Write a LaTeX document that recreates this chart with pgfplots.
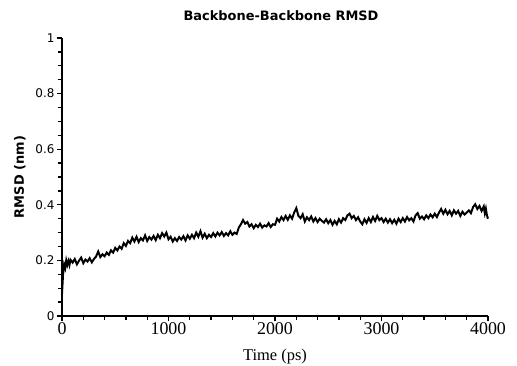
\documentclass[border=0pt]{standalone}
\usepackage{pgfplots}
\pgfplotsset{compat=1.18}
\usepackage{fontspec}
\setmainfont{DejaVu Sans}
\newfontfamily\serif{Liberation Serif}
\begin{document}
\begin{tikzpicture}
\begin{axis}[
  scale only axis,
  width=426bp, height=278bp,
  xmin=0, xmax=4000, ymin=0, ymax=1,
  axis lines=left,
  axis line style={-, line width=1.6pt},
  xtick={0,1000,2000,3000,4000},
  ytick={0,0.2,0.4,0.6,0.8,1},
  minor xtick={200,400,600,800,1200,1400,1600,1800,2200,2400,2600,2800,3200,3400,3600,3800},
  minor ytick={0.05,0.1,0.15,0.25,0.3,0.35,0.45,0.5,0.55,0.65,0.7,0.75,0.85,0.9,0.95},
  tick align=outside,
  major tick length=5bp, minor tick length=3.5bp,
  every tick/.style={black, line width=1.4pt},
  /pgf/number format/assume math mode=true,
  yticklabel style={xshift=1bp},
  xticklabel style={yshift=2bp},
  yticklabel={\fontsize{12}{14}\selectfont\pgfmathprintnumber[fixed relative, precision=1]{\tick}},
  xticklabel={\serif\fontsize{18}{20}\selectfont\pgfmathprintnumber[1000 sep={}]{\tick}},
  title={\fontsize{13}{15}\selectfont\bfseries Backbone-Backbone RMSD},
  title style={yshift=8bp, xshift=6bp},
  ylabel={\fontsize{13}{15}\selectfont\bfseries RMSD (nm)},
  ylabel style={yshift=3bp},
  xlabel={\serif\fontsize{16.5}{18}\selectfont Time (ps)},
  xlabel style={yshift=-8bp},
  clip=false,
]
\addplot[black, line width=2pt] coordinates {
(0,0.080) (10,0.150) (20,0.185) (30,0.172) (40,0.200) (50,0.184) (60,0.198) (70,0.183) (80,0.202)
(100,0.192) (120,0.205) (140,0.186) (160,0.199) (180,0.210) (200,0.190) (220,0.203) (240,0.196)
(260,0.208) (280,0.193) (300,0.205) (320,0.214) (340,0.232) (360,0.212) (380,0.222) (400,0.215)
(420,0.228) (440,0.220) (460,0.236) (480,0.228) (500,0.245) (520,0.236) (540,0.250) (560,0.242)
(580,0.262) (600,0.252) (620,0.270) (640,0.262) (660,0.282) (680,0.268) (700,0.285) (720,0.266)
(740,0.280) (760,0.272) (780,0.290) (800,0.270) (820,0.284) (840,0.275) (860,0.288) (880,0.273)
(900,0.292) (920,0.280) (940,0.298) (960,0.286) (980,0.300) (1000,0.276) (1020,0.285) (1040,0.268)
(1060,0.280) (1080,0.270) (1100,0.284) (1120,0.275) (1140,0.287) (1160,0.272) (1180,0.290)
(1200,0.278) (1220,0.292) (1240,0.280) (1260,0.300) (1280,0.285) (1300,0.305) (1320,0.282)
(1340,0.296) (1360,0.280) (1380,0.292) (1400,0.284) (1420,0.298) (1440,0.286) (1460,0.300)
(1480,0.290) (1500,0.302) (1520,0.288) (1540,0.298) (1560,0.290) (1580,0.305) (1600,0.292)
(1620,0.300) (1640,0.295) (1660,0.318) (1680,0.330) (1700,0.345) (1720,0.332) (1740,0.338)
(1760,0.322) (1780,0.330) (1800,0.316) (1820,0.328) (1840,0.320) (1860,0.332) (1880,0.318)
(1900,0.326) (1920,0.322) (1940,0.334) (1960,0.320) (1980,0.330) (2000,0.328) (2020,0.350)
(2040,0.340) (2060,0.356) (2080,0.345) (2100,0.360) (2120,0.346) (2140,0.362) (2160,0.350)
(2180,0.372) (2200,0.388) (2220,0.360) (2240,0.352) (2260,0.366) (2280,0.340) (2300,0.355)
(2320,0.345) (2340,0.358) (2360,0.340) (2380,0.352) (2400,0.338) (2420,0.350) (2440,0.342)
(2460,0.336) (2480,0.348) (2500,0.334) (2520,0.345) (2540,0.328) (2560,0.342) (2580,0.330)
(2600,0.348) (2620,0.336) (2640,0.352) (2660,0.345) (2680,0.362) (2700,0.368) (2720,0.352)
(2740,0.360) (2760,0.345) (2780,0.355) (2800,0.340) (2820,0.330) (2840,0.348) (2860,0.335)
(2880,0.352) (2900,0.338) (2920,0.356) (2940,0.342) (2960,0.360) (2980,0.345) (3000,0.352)
(3020,0.338) (3040,0.350) (3060,0.336) (3080,0.348) (3100,0.334) (3120,0.346) (3140,0.332)
(3160,0.350) (3180,0.338) (3200,0.352) (3220,0.340) (3240,0.356) (3260,0.344) (3280,0.352)
(3300,0.340) (3320,0.362) (3340,0.370) (3360,0.350) (3380,0.358) (3400,0.348) (3420,0.362)
(3440,0.352) (3460,0.365) (3480,0.355) (3500,0.368) (3520,0.356) (3540,0.372) (3560,0.385)
(3580,0.368) (3600,0.382) (3620,0.366) (3640,0.378) (3660,0.362) (3680,0.380) (3700,0.368)
(3720,0.378) (3740,0.360) (3760,0.375) (3780,0.365) (3800,0.372) (3820,0.380) (3840,0.370)
(3860,0.392) (3880,0.402) (3900,0.385) (3920,0.396) (3940,0.378) (3960,0.394) (3970,0.370)
(3980,0.386) (3990,0.362) (4000,0.350)
};
\end{axis}
\pgfresetboundingbox
\path ([shift={(-62bp,-50bp)}]current axis.south west) rectangle ([shift={(29bp,38bp)}]current axis.north east);
\end{tikzpicture}
\end{document}
